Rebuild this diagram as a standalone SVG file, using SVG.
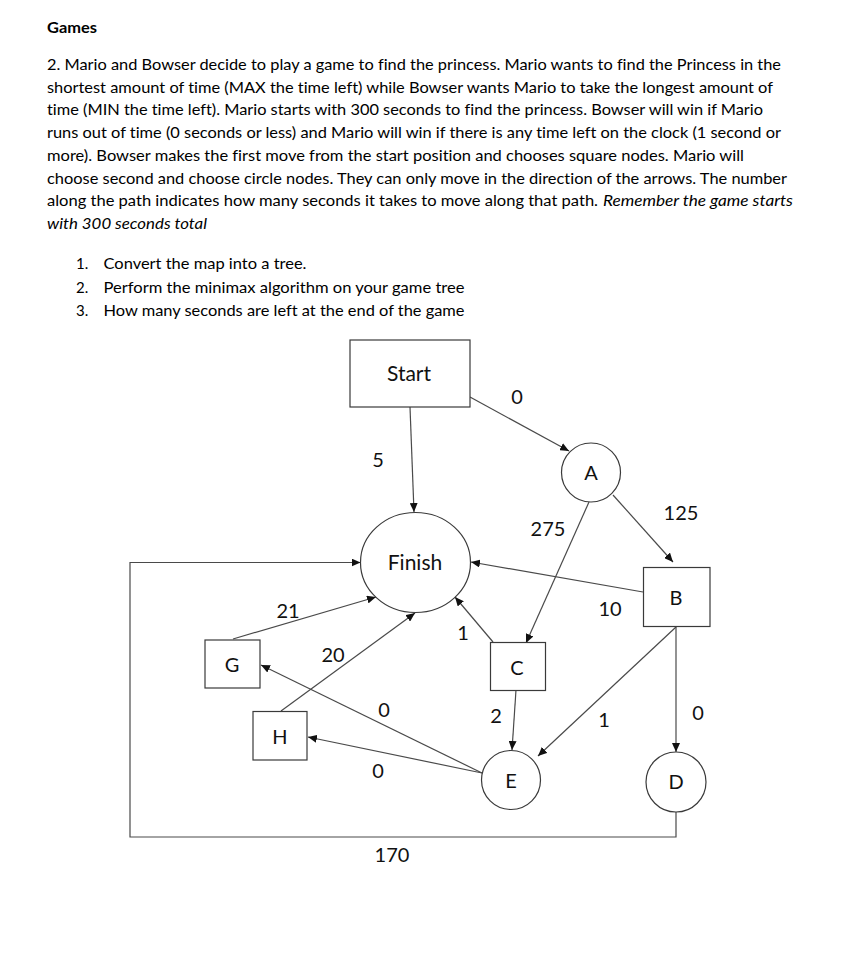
<svg xmlns="http://www.w3.org/2000/svg" width="860" height="978" viewBox="0 0 860 978">
<style>
.p{font-family:Lato,"Liberation Sans",sans-serif;font-size:15px;fill:#000;font-variant-ligatures:none}
.i{font-style:italic}
.b{font-weight:bold;font-size:16px}
.n{fill:#fff;stroke:#3a3a3a;stroke-width:1.2}
.t{font-family:Lato,"Liberation Sans",sans-serif;font-size:20px;fill:#111;text-anchor:middle}
.big{font-size:21px}
.e{fill:none;stroke:#4a4a4a;stroke-width:1.2}
.ea{marker-end:url(#ah)}
</style>
<defs>
<marker id="ah" markerUnits="userSpaceOnUse" markerWidth="10" markerHeight="8" refX="9" refY="4" orient="auto">
<path d="M0,0 L9,4 L0,8 z" fill="#111"/>
</marker>
</defs>
<rect width="860" height="978" fill="#fff"/>
<g id="text">
<text class="p b" x="47" y="33" textLength="50" lengthAdjust="spacingAndGlyphs">Games</text>
<text class="p" x="47" y="70" textLength="734" lengthAdjust="spacingAndGlyphs">2. Mario and Bowser decide to play a game to find the princess. Mario wants to find the Princess in the</text>
<text class="p" x="47" y="92.7" textLength="726" lengthAdjust="spacingAndGlyphs">shortest amount of time (MAX the time left) while Bowser wants Mario to take the longest amount of</text>
<text class="p" x="47" y="115.4" textLength="716" lengthAdjust="spacingAndGlyphs">time (MIN the time left). Mario starts with 300 seconds to find the princess. Bowser will win if Mario</text>
<text class="p" x="47" y="138.1" textLength="734" lengthAdjust="spacingAndGlyphs">runs out of time (0 seconds or less) and Mario will win if there is any time left on the clock (1 second or</text>
<text class="p" x="47" y="160.8" textLength="697" lengthAdjust="spacingAndGlyphs">more). Bowser makes the first move from the start position and chooses square nodes. Mario will</text>
<text class="p" x="47" y="183.5" textLength="740" lengthAdjust="spacingAndGlyphs">choose second and choose circle nodes. They can only move in the direction of the arrows. The number</text>
<text class="p" x="47" y="206.2" textLength="551" lengthAdjust="spacingAndGlyphs">along the path indicates how many seconds it takes to move along that path.</text>
<text class="p i" x="603" y="206.2" textLength="190" lengthAdjust="spacingAndGlyphs">Remember the game starts</text>
<text class="p i" x="47" y="228.9" textLength="160" lengthAdjust="spacingAndGlyphs">with 300 seconds total</text>
<text class="p" x="76" y="268.5">1.</text>
<text class="p" x="103.5" y="268.5" textLength="203" lengthAdjust="spacingAndGlyphs">Convert the map into a tree.</text>
<text class="p" x="76" y="292.5">2.</text>
<text class="p" x="103.5" y="292.5" textLength="361" lengthAdjust="spacingAndGlyphs">Perform the minimax algorithm on your game tree</text>
<text class="p" x="76" y="316">3.</text>
<text class="p" x="103.5" y="316" textLength="361" lengthAdjust="spacingAndGlyphs">How many seconds are left at the end of the game</text>
</g>
<g id="connectors">
<path class="e ea" d="M470,397 L569,451"/>
<path class="e ea" d="M410,407 L414,512"/>
<path class="e ea" d="M613,495 L673,562"/>
<path class="e ea" d="M589,502 L526,643"/>
<path class="e ea" d="M643,592 L471,562"/>
<path class="e ea" d="M493,642 L455,597"/>
<path class="e ea" d="M516,690 L512,750"/>
<path class="e ea" d="M676,627 L538,756"/>
<path class="e ea" d="M676,627 L676,752"/>
<path class="e ea" d="M233,639 L376,597"/>
<path class="e ea" d="M281,711 L415,613"/>
<path class="e ea" d="M482,773 L261,665"/>
<path class="e ea" d="M482,773 L308,737"/>
<path class="e ea" d="M676,812 L676,837 L130,837 L130,562.5 L360.5,562.5"/>
<text class="t" x="517" y="404">0</text>
<text class="t" x="378" y="467">5</text>
<text class="t" x="681" y="520">125</text>
<text class="t" x="548" y="536">275</text>
<text class="t" x="610" y="616">10</text>
<text class="t" x="463" y="640">1</text>
<text class="t" x="288" y="618">21</text>
<text class="t" x="333" y="662">20</text>
<text class="t" x="384" y="717">0</text>
<text class="t" x="378" y="778">0</text>
<text class="t" x="496" y="723">2</text>
<text class="t" x="604" y="727">1</text>
<text class="t" x="698" y="720">0</text>
<text class="t" x="392" y="862">170</text>
</g>
<g id="node-start">
<rect class="n" x="350" y="340" width="120" height="67"/>
<text class="t big" x="409" y="381">Start</text>
</g>
<g id="node-a">
<circle class="n" cx="591" cy="472.5" r="29.5"/>
<text class="t" x="591" y="480">A</text>
</g>
<g id="node-finish">
<ellipse class="n" cx="415.5" cy="562.5" rx="55" ry="50"/>
<text class="t big" x="415" y="570">Finish</text>
</g>
<g id="node-b">
<rect class="n" x="643.5" y="567.5" width="66.5" height="59"/>
<text class="t" x="676" y="605">B</text>
</g>
<g id="node-c">
<rect class="n" x="490.5" y="642.5" width="55" height="48"/>
<text class="t" x="517" y="675">C</text>
</g>
<g id="node-g">
<rect class="n" x="205" y="640" width="55" height="48"/>
<text class="t" x="232" y="672">G</text>
</g>
<g id="node-h">
<rect class="n" x="253" y="711.5" width="54" height="48.5"/>
<text class="t" x="280" y="744">H</text>
</g>
<g id="node-e">
<circle class="n" cx="511" cy="780" r="29.5"/>
<text class="t" x="511" y="788">E</text>
</g>
<g id="node-d">
<circle class="n" cx="676" cy="782" r="30"/>
<text class="t" x="676" y="789">D</text>
</g>
</svg>
